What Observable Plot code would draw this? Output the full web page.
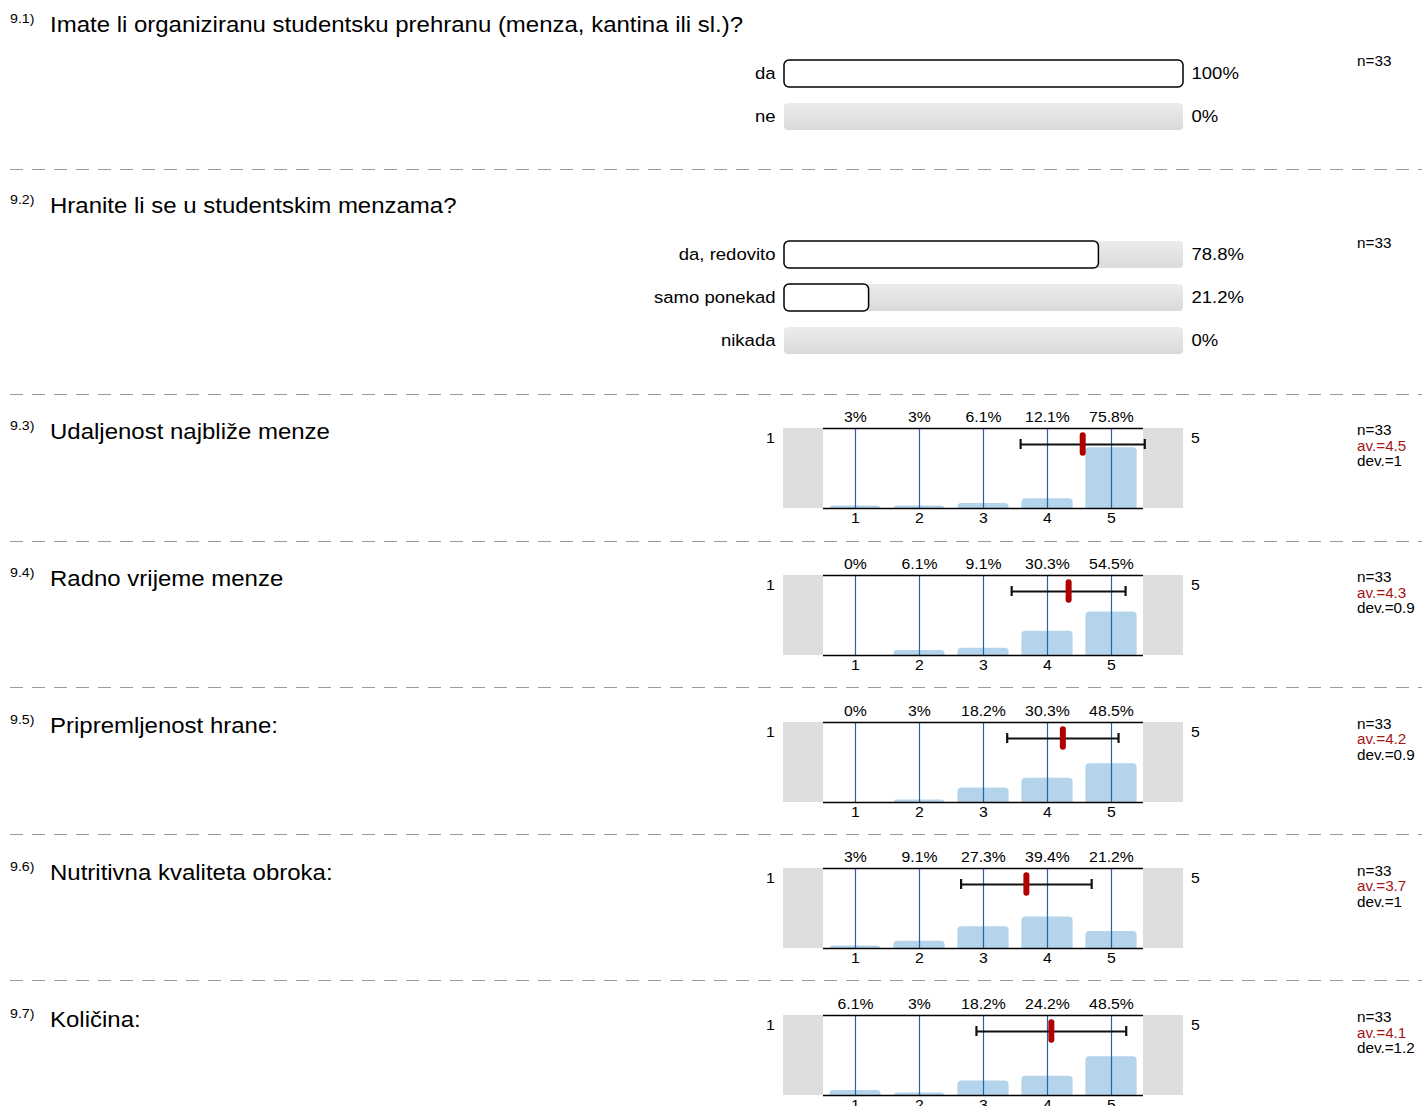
<!DOCTYPE html>
<html><head><meta charset="utf-8">
<script src="https://cdn.jsdelivr.net/npm/d3@7"></script>
<script src="https://cdn.jsdelivr.net/npm/@observablehq/plot@0.6"></script>
<style>
html,body{margin:0;padding:0;background:#fff;}
body{width:1422px;height:1106px;overflow:hidden;position:relative;font-family:"Liberation Sans",Arial,sans-serif;color:#000;}
.abs{position:absolute;white-space:nowrap;}
.st{display:inline-block;transform:scaleX(1.09);transform-origin:0 50%;}
.title{font-size:22px;line-height:22px;left:50px;}
.num{font-size:13px;line-height:13px;left:10px;}
.stats{font-size:14px;line-height:15.5px;left:1357px;}
.stats .av{color:#a31515;}
.sep{left:10px;width:1412px;height:1px;background-image:linear-gradient(to right,#9a9a9a 13px,transparent 13px);background-size:22px 1px;background-repeat:repeat-x;}
</style></head><body>
<svg width="0" height="0" style="position:absolute"><defs><linearGradient id="gbar" x1="0" y1="0" x2="0" y2="1"><stop offset="0" stop-color="#ececec"/><stop offset="1" stop-color="#dadada"/></linearGradient></defs></svg>
<script>
// ---------- DATA ----------
const q1Id = "9.1)";
const q1Title = "Imate li organiziranu studentsku prehranu (menza, kantina ili sl.)?";
const q1Options = ["da", "ne"];
const q1Percents = [100, 0];
const q1N = 33;

const q2Id = "9.2)";
const q2Title = "Hranite li se u studentskim menzama?";
const q2Options = ["da, redovito", "samo ponekad", "nikada"];
const q2Percents = [78.8, 21.2, 0];
const q2N = 33;

const scaleIds = ["9.3)", "9.4)", "9.5)", "9.6)", "9.7)"];
const scaleTitles = ["Udaljenost najbliže menze", "Radno vrijeme menze", "Pripremljenost hrane:", "Nutritivna kvaliteta obroka:", "Količina:"];
const scalePoints = [1, 2, 3, 4, 5];
const scalePercents = [
  [3, 3, 6.1, 12.1, 75.8],
  [0, 6.1, 9.1, 30.3, 54.5],
  [0, 3, 18.2, 30.3, 48.5],
  [3, 9.1, 27.3, 39.4, 21.2],
  [6.1, 3, 18.2, 24.2, 48.5]
];
const scaleMeans = [4.55, 4.33, 4.24, 3.67, 4.06];
const scaleDevs = [0.97, 0.89, 0.87, 1.02, 1.17];
const scaleN = [33, 33, 33, 33, 33];
const scaleAvLabels = ["4.5", "4.3", "4.2", "3.7", "4.1"];
const scaleDevLabels = ["1", "0.9", "0.9", "1", "1.2"];

// ---------- LAYOUT ----------
const FONT = '"Liberation Sans", Arial, sans-serif';
const S = 1.09;
const titleBaselines = [33, 214, 440, 587, 734, 881, 1028];
const separators = [169, 394, 540.5, 687, 834, 980];
const barTops = [52, 233];
const barStatsTops = [54, 236];
const histBoxTops = [428, 574.75, 721.5, 868.25, 1015];

function stretch(svg) {
  svg.querySelectorAll("text").forEach(t => {
    const x = +t.getAttribute("x") || 0, y = +t.getAttribute("y") || 0;
    const tr = t.getAttribute("transform") || "";
    t.setAttribute("transform", `${tr} translate(${x},${y}) scale(${S},1) translate(${-x},${-y})`);
  });
  return svg;
}
function place(svg, top) {
  svg.style.position = "absolute";
  svg.style.left = "0px";
  svg.style.top = top + "px";
  svg.style.maxWidth = "none";
  svg.style.background = "transparent";
  document.body.appendChild(stretch(svg));
}
function addDiv(cls, top, lines) {
  const d = document.createElement("div");
  d.className = "abs " + cls;
  d.style.top = top + "px";
  lines.forEach(([txt, c]) => {
    const row = document.createElement("div");
    if (c) row.className = c;
    const s = document.createElement("span");
    s.className = "st";
    s.textContent = txt;
    row.appendChild(s);
    d.appendChild(row);
  });
  document.body.appendChild(d);
}

function barPlot(options, percents) {
  const data = options.map((o, i) => ({o, p: percents[i], label: `${percents[i]}%`}));
  return Plot.plot({
    width: 1422, height: options.length * 43,
    marginLeft: 784, marginRight: 239, marginTop: 0, marginBottom: 0,
    x: {domain: [0, 100], axis: null},
    y: {domain: options, axis: null, padding: 0},
    style: {fontFamily: FONT, color: "#000", background: "transparent", overflow: "visible"},
    marks: [
      Plot.barX(data, {x1: 0, x2: 100, y: "o", fill: "url(#gbar)", rx: 4, insetTop: 8, insetBottom: 8}),
      Plot.barX(data.filter(d => d.p > 0), {x1: 0, x2: "p", y: "o", fill: "white", stroke: "#000", strokeWidth: 1.5, rx: 5, insetTop: 8, insetBottom: 8}),
      Plot.text(data, {x: 0, y: "o", text: "o", textAnchor: "end", dx: -9, fontSize: 17}),
      Plot.text(data, {x: 100, y: "o", text: "label", textAnchor: "start", dx: 8, fontSize: 17})
    ]
  });
}

function histPlot(k) {
  const pts = scalePoints.map((c, i) => ({c, p: scalePercents[k][i], label: `${scalePercents[k][i]}%`}));
  const m = scaleMeans[k], sd = scaleDevs[k];
  const lo = scalePoints[0] - 0.5, hi = scalePoints[scalePoints.length - 1] + 0.5, pad = 0.625;
  return Plot.plot({
    width: 1422, height: 130,
    marginLeft: 783, marginRight: 239, marginTop: 25, marginBottom: 25,
    x: {domain: [lo - pad, hi + pad], axis: null},
    y: {domain: [0, 100], axis: null},
    style: {fontFamily: FONT, color: "#000", background: "transparent", overflow: "visible"},
    marks: [
      Plot.rect([lo - pad, hi], {x1: d => d, x2: d => d + pad, y1: 0, y2: 100, fill: "#dedede"}),
      Plot.rect(pts, {x1: d => d.c - 0.4, x2: d => d.c + 0.4, y1: 0, y2: "p", fill: "#b4d4eb", rx: 4, insetBottom: -6, clip: true}),
      Plot.ruleX(scalePoints, {x: d => d, y1: 0, y2: 100, stroke: "#2463a8", strokeWidth: 1.2}),
      Plot.ruleY([0, 100], {y: d => d, x1: lo, x2: hi, stroke: "#000", strokeWidth: 1.5}),
      Plot.ruleY([m], {y: 80, x1: d => d - sd, x2: d => d + sd, stroke: "#111", strokeWidth: 2.2}),
      Plot.ruleX([m - sd, m + sd], {x: d => d, y1: 73.75, y2: 86.25, stroke: "#111", strokeWidth: 2.2}),
      Plot.ruleX([m], {x: d => d, y1: 69, y2: 91, stroke: "#b00000", strokeWidth: 6, strokeLinecap: "round"}),
      Plot.text(pts, {x: "c", y: 100, dy: -11, text: "label", fontSize: 14.5}),
      Plot.text(pts, {x: "c", y: 0, dy: 10, text: d => String(d.c), fontSize: 14.5}),
      Plot.text([scalePoints[0]], {x: lo - pad, y: 100, dx: -13, dy: 10, text: d => String(d), fontSize: 14.5}),
      Plot.text([scalePoints[scalePoints.length - 1]], {x: hi + pad, y: 100, dx: 12, dy: 10, text: d => String(d), fontSize: 14.5})
    ]
  });
}

// ---------- BUILD ----------
place(barPlot(q1Options, q1Percents), barTops[0]);
place(barPlot(q2Options, q2Percents), barTops[1]);
scaleIds.forEach((id, k) => place(histPlot(k), histBoxTops[k] - 25));

separators.forEach(y => {
  const d = document.createElement("div");
  d.className = "abs sep";
  d.style.top = y + "px";
  document.body.appendChild(d);
});

const allIds = [q1Id, q2Id, ...scaleIds];
const allTitles = [q1Title, q2Title, ...scaleTitles];
allIds.forEach((id, i) => {
  addDiv("num", titleBaselines[i] - 21, [[id]]);
  addDiv("title", titleBaselines[i] - 18.6, [[allTitles[i]]]);
});

addDiv("stats", barStatsTops[0], [[`n=${q1N}`]]);
addDiv("stats", barStatsTops[1], [[`n=${q2N}`]]);
scaleIds.forEach((id, k) => {
  addDiv("stats", histBoxTops[k] - 4.75, [
    [`n=${scaleN[k]}`],
    [`av.=${scaleAvLabels[k]}`, "av"],
    [`dev.=${scaleDevLabels[k]}`]
  ]);
});
</script>
</body></html>
